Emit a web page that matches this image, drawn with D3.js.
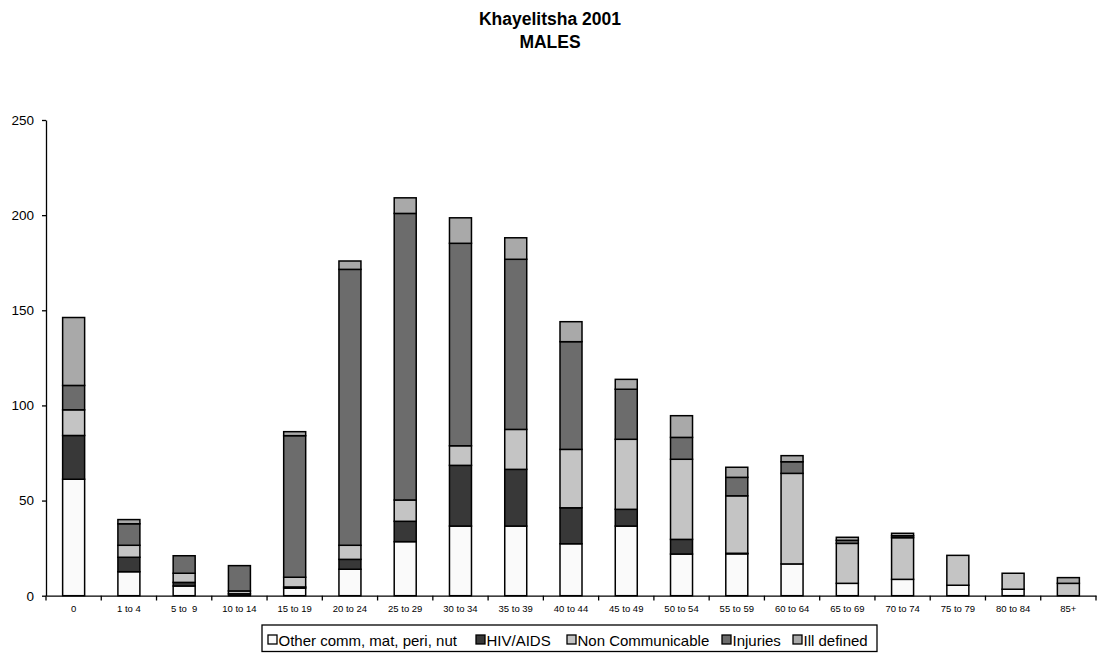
<!DOCTYPE html>
<html>
<head>
<meta charset="utf-8">
<script src="https://cdn.jsdelivr.net/npm/d3@7"></script>
<style>
  html, body { margin: 0; padding: 0; background: #fff; }
  svg { display: block; font-family: "Liberation Sans", Arial, sans-serif; }
  text { white-space: pre; }
</style>
</head>
<body>
<svg id="chart" width="1097" height="655"></svg>
<script>
const categories = ["0","1 to 4","5 to  9","10 to 14","15 to 19","20 to 24","25 to 29","30 to 34","35 to 39","40 to 44","45 to 49","50 to 54","55 to 59","60 to 64","65 to 69","70 to 74","75 to 79","80 to 84","85+"];
const seriesNames = ["Other comm, mat, peri, nut","HIV/AIDS","Non Communicable","Injuries","Ill defined"];
const otherComm      = [61.2, 12.6, 5.1, 0,   4.0, 13.9, 28.4, 36.6, 36.6, 27.3, 36.6, 21.9, 22.0, 16.7, 6.5, 8.6, 5.5, 3.4, 0];
const hivAids        = [23.0, 7.6,  1.9, 1.0, 0.6, 5.2,  10.7, 31.9, 29.8, 18.9, 8.8,  7.7,  0.3,  0,    0,   0,   0,   0,   0];
const nonCommunic    = [13.5, 6.3,  4.8, 1.5, 5.1, 7.4,  11.2, 10.3, 21.0, 30.7, 36.8, 42.1, 30.2, 47.6, 21.0,21.9,15.7,8.4, 6.5];
const injuries       = [12.8, 11.3, 9.2, 13.3,74.4,145.0,150.6,106.4,89.4, 56.6, 26.3, 11.5, 9.7,  6.1,  1.6, 1.0, 0,   0,   0];
const illDefined     = [35.7, 2.2,  0,   0,   2.1, 4.4,  8.2,  13.4, 11.3, 10.5, 5.2,  11.4, 5.3,  3.2,  1.6, 1.3, 0,   0,   3.0];
const yTicks = [0, 50, 100, 150, 200, 250];
const colors = ["#fafafa","#383838","#c4c4c4","#6c6c6c","#a9a9a9"];
const titleLines = ["Khayelitsha 2001","MALES"];

const svg = d3.select("#chart");
const xb = d3.scaleBand().domain(categories).range([46, 1096]);
const y = d3.scaleLinear().domain([0, 250]).range([595.7, 120]);

const rows = categories.map((c, i) => ({
  cat: c, s0: otherComm[i], s1: hivAids[i], s2: nonCommunic[i], s3: injuries[i], s4: illDefined[i]
}));
const keys = ["s0","s1","s2","s3","s4"];
const stacked = d3.stack().keys(keys)(rows);

// title
svg.append("g").selectAll("text").data(titleLines).join("text")
  .attr("x", 550).attr("y", (d, i) => 25 + i * 22.5)
  .attr("text-anchor", "middle").attr("font-weight", "bold").attr("font-size", 17.5)
  .text(d => d);

// bars
const bw = 22;
svg.append("g").selectAll("g").data(stacked).join("g")
  .attr("fill", (d, i) => colors[i])
  .selectAll("rect").data(d => d.filter(p => p[1] - p[0] > 0)).join("rect")
  .attr("x", d => xb(d.data.cat) + xb.bandwidth() / 2 - bw / 2)
  .attr("width", bw)
  .attr("y", d => y(d[1]))
  .attr("height", d => y(d[0]) - y(d[1]))
  .attr("stroke", "#000").attr("stroke-width", 1.5);

// y axis
const yAxis = svg.append("g").attr("transform", "translate(46,0)")
  .call(d3.axisLeft(y).tickValues(yTicks).tickSize(4).tickSizeOuter(0).tickFormat(d3.format("d")));
yAxis.select(".domain").attr("stroke", "#000").attr("stroke-width", 1.3);
yAxis.selectAll(".tick line").attr("stroke", "#000").attr("stroke-width", 1.3);
yAxis.selectAll(".tick text").attr("font-size", 13.5).attr("fill", "#000")
  .attr("font-family", "Liberation Sans, Arial, sans-serif").attr("x", -12);

// x axis
const xAxis = svg.append("g").attr("transform", "translate(0,595.7)")
  .call(d3.axisBottom(xb).tickSize(0).tickSizeOuter(0));
xAxis.select(".domain").attr("stroke", "#000").attr("stroke-width", 1.3);
xAxis.selectAll(".tick text").attr("font-size", 9.5).attr("fill", "#000")
  .attr("font-family", "Liberation Sans, Arial, sans-serif").attr("y", 10);
// boundary ticks
const bounds = categories.map(c => xb(c)).concat([xb(categories[categories.length - 1]) + xb.bandwidth()]);
svg.append("g").selectAll("line").data(bounds).join("line")
  .attr("x1", d => d).attr("x2", d => d).attr("y1", 595.7).attr("y2", 600.5)
  .attr("stroke", "#000").attr("stroke-width", 1.3);

// legend
const legX = [268, 476, 567, 722, 793];
const lg = svg.append("g");
lg.append("rect").attr("x", 262).attr("y", 625).attr("width", 615).attr("height", 26.5)
  .attr("fill", "#fff").attr("stroke", "#000").attr("stroke-width", 1.3);
const items = lg.selectAll("g.item").data(seriesNames).join("g").attr("class", "item")
  .attr("transform", (d, i) => `translate(${legX[i]},635)`);
items.append("rect").attr("width", 9).attr("height", 9)
  .attr("fill", (d, i) => colors[i]).attr("stroke", "#000").attr("stroke-width", 1.3);
items.append("text").attr("x", 10.5).attr("y", 10.5).attr("font-size", 15).text(d => d);
</script>
</body>
</html>
